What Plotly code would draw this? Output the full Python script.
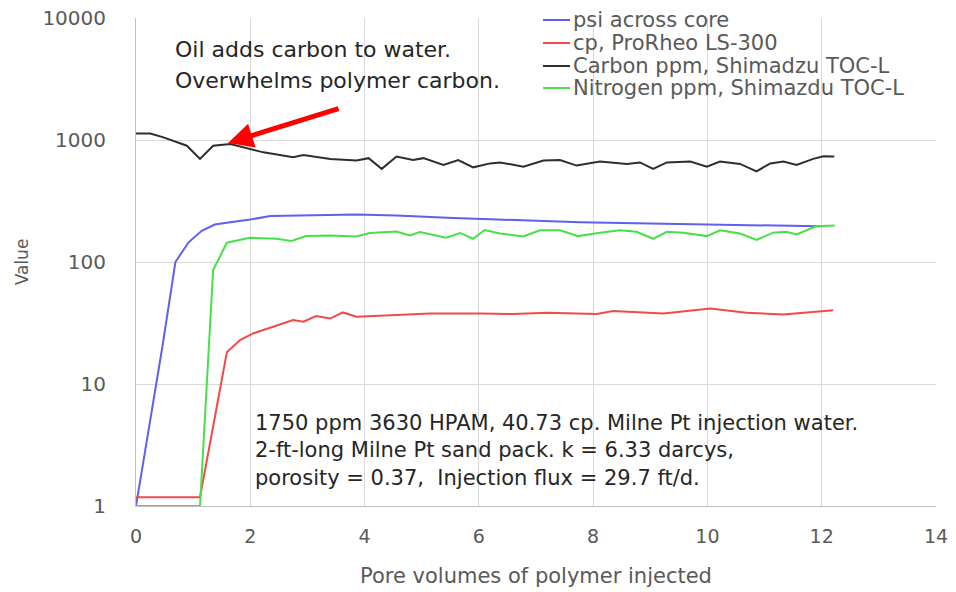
import plotly.graph_objects as go

# Pore volumes injected and measured values for each series
psi_pv = [0, 0.23, 0.46, 0.69, 0.92, 1.15, 1.38, 1.65, 2.0, 2.35, 2.81, 3.3, 3.86,
          4.56, 5.0, 5.55, 6.2, 6.8, 7.4, 7.77, 8.5, 9.23, 10.0, 10.97, 11.97]
psi = [1, 4.5, 20, 100, 145, 180, 203, 212, 223, 238, 241, 243, 245,
       241, 235, 229, 224, 219, 214, 212, 209, 206, 202, 198, 196]

cp_pv = [0, 1.12, 1.59, 1.82, 2.05, 2.4, 2.75, 2.93, 3.15, 3.4, 3.62, 3.86, 4.56,
         5.15, 6.02, 6.6, 7.19, 8.06, 8.35, 9.23, 10.05, 10.68, 11.33, 11.9, 12.2]
cp = [1.18, 1.18, 18.2, 22.9, 26, 29.4, 33.4, 32.4, 36, 34.4, 38.6, 35.6, 36.5,
      37.8, 37.8, 37.5, 38.3, 37.5, 39.6, 37.8, 41.6, 38.3, 37.2, 39.0, 40.3]

carbon_pv = [0, 0.25, 0.48, 0.89, 1.12, 1.35, 1.65, 1.88, 2.23, 2.75, 2.93, 3.4, 3.86,
             4.07, 4.3, 4.56, 4.85, 5.03, 5.38, 5.64, 5.9, 6.2, 6.37, 6.78, 7.13, 7.42,
             7.71, 8.12, 8.59, 8.82, 9.05, 9.29, 9.7, 9.99, 10.22, 10.57, 10.86, 11.1,
             11.33, 11.56, 11.85, 12.03, 12.22]
carbon = [1132, 1130, 1050, 898, 700, 898, 927, 870, 792, 721, 754, 700, 678,
          710, 580, 731, 685, 710, 625, 685, 597, 643, 655, 605, 678, 685,
          617, 665, 637, 655, 580, 655, 667, 605, 665, 637, 554, 643,
          667, 625, 700, 735, 733]

nitrogen_pv = [0, 1.12, 1.35, 1.59, 1.99, 2.46, 2.72, 2.98, 3.4, 3.86, 4.09, 4.56, 4.79,
               4.97, 5.43, 5.67, 5.9, 6.1, 6.37, 6.78, 7.07, 7.42, 7.74, 8.12, 8.47,
               8.76, 9.05, 9.29, 9.58, 9.99, 10.22, 10.57, 10.86, 11.15, 11.38, 11.56,
               11.9, 12.23]
nitrogen = [1, 1, 86, 144, 158, 155, 149, 163, 165, 162, 173, 178, 165,
            176, 158, 173, 155, 183, 171, 162, 182, 182, 163, 174, 182,
            177, 155, 177, 174, 163, 182, 171, 152, 174, 177, 168,
            196, 199]

series_names = ["psi across core", "cp, ProRheo LS-300",
                "Carbon ppm, Shimadzu TOC-L", "Nitrogen ppm, Shimazdu TOC-L"]
series_colors = ["#5f5ff0", "#f04a4a", "#2e2e2e", "#48e048"]

x_ticks = [0, 2, 4, 6, 8, 10, 12, 14]
y_ticks = [1, 10, 100, 1000, 10000]

FONT = "DejaVu Sans"
GREY = "#595959"
DARK = "#262626"

fig = go.Figure()
for name, xs, ys, color in zip(series_names,
                               [psi_pv, cp_pv, carbon_pv, nitrogen_pv],
                               [psi, cp, carbon, nitrogen],
                               series_colors):
    fig.add_trace(go.Scatter(x=xs, y=ys, mode="lines", name=name,
                             line=dict(color=color, width=2), showlegend=False))

fig.update_layout(
    width=956, height=592,
    margin=dict(l=136, r=20, t=18, b=86),
    paper_bgcolor="white", plot_bgcolor="white",
    font=dict(family=FONT, color=GREY),
    showlegend=False,
    xaxis=dict(range=[0, 14], tickvals=x_ticks, ticktext=[str(v) for v in x_ticks],
               showgrid=True, gridcolor="#d9d9d9", gridwidth=1,
               showline=True, linecolor="#bfbfbf", linewidth=1,
               zeroline=False, ticks="", ticklabelstandoff=13, automargin=False,
               layer="below traces",
               tickfont=dict(size=19, color=GREY),
               title=dict(text="Pore volumes of polymer injected",
                          font=dict(size=21, color=GREY), standoff=22)),
    yaxis=dict(type="log", range=[0, 4], tickvals=y_ticks,
               ticktext=[str(v) for v in y_ticks],
               showgrid=True, gridcolor="#d9d9d9", gridwidth=1,
               showline=True, linecolor="#bfbfbf", linewidth=1,
               zeroline=False, ticks="", ticklabelstandoff=25, automargin=False,
               layer="below traces",
               tickfont=dict(size=20, color=GREY),
               title=dict(text="Value", font=dict(size=17, color=GREY), standoff=9)),
)

# Legend drawn as line samples plus labels in the upper right of the plot
PLOT_H = 592 - 18 - 86
legend_rows_px = [20, 43, 66, 88]
for name, color, row in zip(series_names, series_colors, legend_rows_px):
    yp = (592 - 86 - row) / PLOT_H
    fig.add_shape(type="line", xref="paper", yref="paper",
                  x0=(543 - 136) / 800, x1=(570 - 136) / 800, y0=yp, y1=yp,
                  line=dict(color=color, width=2))
    fig.add_annotation(x=(571 - 136) / 800, y=yp, xref="paper", yref="paper",
                       xanchor="left", yanchor="middle", showarrow=False,
                       text=name, font=dict(size=21, color=GREY, family=FONT))

# Arrow pointing at the carbon curve
fig.add_annotation(x=1.61, y=2.975, xref="x", yref="y", ax=112, ay=-35,
                   showarrow=True, arrowhead=2, arrowsize=1, arrowwidth=5,
                   arrowcolor="#ff0000", text="")

for line_text, row in [("Oil adds carbon to water.", 50),
                       ("Overwhelms polymer carbon.", 81)]:
    fig.add_annotation(x=0.65, y=(592 - 86 - row) / PLOT_H, xref="x", yref="paper",
                       xanchor="left", yanchor="middle", showarrow=False,
                       text=line_text, font=dict(size=22, color=DARK, family=FONT))

fig.add_annotation(x=2.05, y=(592 - 86 - 450) / PLOT_H, xref="x", yref="paper",
                   xanchor="left", yanchor="middle", showarrow=False, align="left",
                   text=("1750 ppm 3630 HPAM, 40.73 cp. Milne Pt injection water.<br>"
                         "2-ft-long Milne Pt sand pack. k = 6.33 darcys,<br>"
                         "porosity = 0.37,  Injection flux = 29.7 ft/d."),
                   font=dict(size=21, color=DARK, family=FONT))

fig.write_html("out.html")
